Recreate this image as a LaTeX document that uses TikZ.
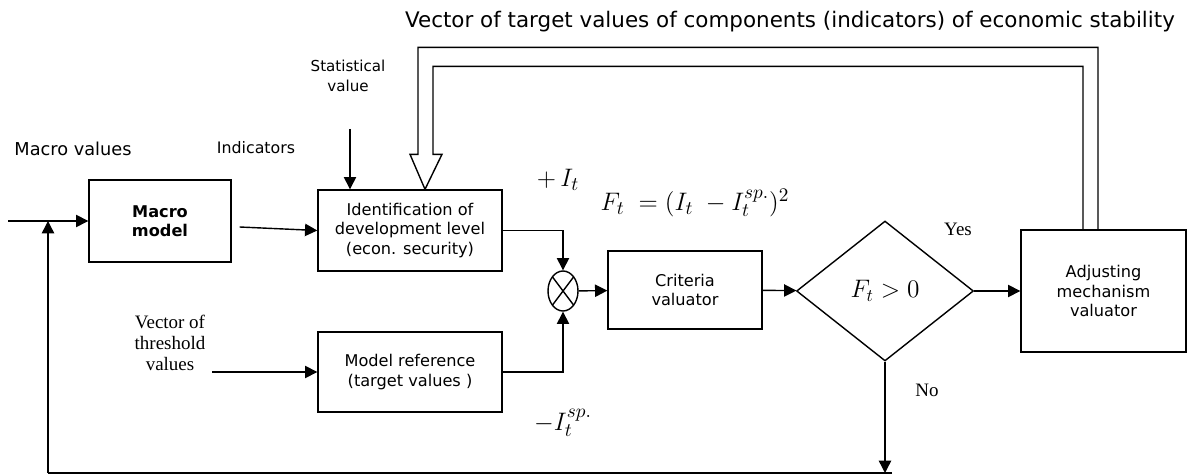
\documentclass[tikz,border=0pt]{standalone}
\usepackage{fontspec}
\setmainfont{DejaVu Sans}
\newfontfamily\tms{Liberation Serif}
\usetikzlibrary{positioning,calc,arrows.meta,shapes.geometric}

\begin{document}
\begin{tikzpicture}[x=0.02cm, y=-0.02cm, line width=0.8pt,
        block/.style={rectangle, draw=black, line width=0.8pt, align=center, font=\fontsize{9.2}{11}\selectfont, inner sep=2pt},
        sumnode/.style={ellipse, draw=black, minimum width=0.6cm, minimum height=0.8cm, inner sep=0pt,
            path picture={\draw (path picture bounding box.north west) -- (path picture bounding box.south east)
                                (path picture bounding box.north east) -- (path picture bounding box.south west);}},
        decnode/.style={diamond, draw=black, aspect=1.26, minimum width=3.54cm, minimum height=2.8cm, inner sep=0pt},
        lbl/.style={align=center, font=\fontsize{9}{11}\selectfont},
        tlbl/.style={align=center, font=\tms\fontsize{10.8}{11.8}\selectfont},
        mlbl/.style={font=\fontsize{15}{17}\selectfont},
        arr/.style={-{Triangle[length=7pt,width=7pt]}}
        ]
            \useasboundingbox (0,0) rectangle (1187,476);

            % blocks
            \node[block, minimum width=2.84cm, minimum height=1.64cm] (macro)  at (160,221)    {\textbf{Macro}\\\textbf{model}};
            \node[block, minimum width=3.68cm, minimum height=1.62cm] (ident)  at (410,230.5)  {Identification of\\development level\\(econ. security)};
            \node[block, minimum width=3.68cm, minimum height=1.6cm]  (modref) at (410,372)    {Model reference\\(target values )};
            \node[sumnode]                                            (sum)    at (563,291)    {};
            \node[block, minimum width=3.08cm, minimum height=1.56cm] (crit)   at (685,290)    {Criteria\\valuator};
            \node[decnode]                                            (dec)    at (885,291)    {\fontsize{14}{16}\selectfont$F_t > 0$};
            \node[block, minimum width=3.3cm, minimum height=2.44cm]  (adjust) at (1103.5,291) {Adjusting\\mechanism\\valuator};

            % texts
            \node[lbl, font=\fontsize{10.1}{12}\selectfont] (macroval) at (73,149)  {Macro values};
            \node[lbl]                                      (indic)    at (256,148) {Indicators};
            \node[lbl, font=\fontsize{8.6}{11}\selectfont]  (stat)     at (348,76)  {Statistical\\value};
            \node[tlbl]                                     (thresh)   at (170,343) {Vector of\\threshold\\values};
            \node[lbl, font=\fontsize{12.2}{14}\selectfont] (target)   at (790,22)  {Vector of target values of components (indicators) of economic stability};
            \node[tlbl]                                     (yes)      at (958,229) {Yes};
            \node[tlbl]                                     (no)       at (927,390) {No};
            \node[mlbl] (plus)     at (558,180) {${+}\,I_t$};
            \node[mlbl] (crfun)    at (695,203) {$F_t\;=(I_t\;-I_t^{sp.})^2$};
            \node[mlbl] (minus)    at (563,423) {$-I_t^{sp.}$};

            % free ends
            \coordinate (inp)  at (8,221);
            \coordinate (stin) at (350,129);
            \coordinate (thin) at (212,372);
            \coordinate (fbr)  at (892,473);
            \coordinate (fbl)  at (48,473);
            \coordinate (tip)  at ($(ident.north)+(15,0)$);

            % lines
            \draw[arr] (inp) -- (macro);
            \draw[arr] ($(macro.east)+(8,6)$) -- (ident.west);
            \draw[arr] (stin) -- (stin |- ident.north);
            \draw[arr] (thin) -- (modref.west);
            \draw[arr] (ident.east) -| (sum.north);
            \draw[arr] (modref.east) -| (sum.south);
            \draw[arr] (sum) -- (crit);
            \draw[arr] (crit) -- (dec);
            \draw[arr] (dec) -- (adjust);
            % feedback
            \draw[arr] (dec.south) -- (dec.south |- fbr);
            \draw (fbr) -- (fbl);
            \draw[arr] (fbl) -- (fbl |- macro.west);
            % target values (hollow arrow)
            \draw (tip) -- ++(-15,-35) -- ++(8,0) |- ($(adjust.north)+(-5.5,-182)$) -- ($(adjust.north)+(-5.5,0)$);
            \draw (tip) -- ++(17,-35) -- ++(-9,0) |- ($(adjust.north)+(-20.5,-163)$) -- ($(adjust.north)+(-20.5,0)$);
        \end{tikzpicture}
\end{document}
